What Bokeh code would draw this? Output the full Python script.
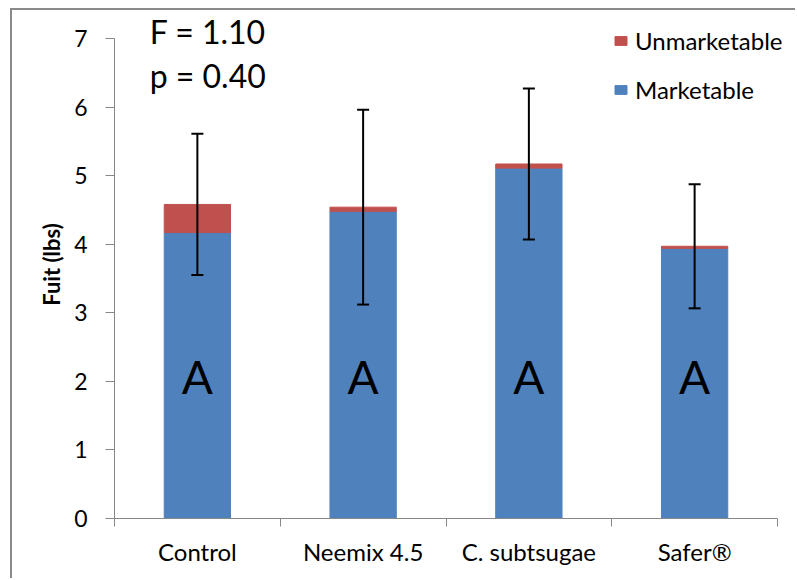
from bokeh.plotting import figure
from bokeh.models import (ColumnDataSource, Range1d, LinearAxis, FixedTicker, Legend, LegendItem,
                          Whisker, TeeHead, Label)
from bokeh.core.properties import value
from bokeh.embed import file_html
from bokeh.resources import INLINE

categories = ["Control", "Neemix 4.5", "C. subtsugae", "Safer®"]
marketable = [4.17, 4.48, 5.11, 3.94]
unmarketable = [0.41, 0.06, 0.06, 0.03]
error = [1.03, 1.42, 1.10, 0.905]
letters = ["A", "A", "A", "A"]
stat_lines = ["F = 1.10", "p = 0.40"]
y_ticks = [0, 1, 2, 3, 4, 5, 6, 7]

FONT = "Lato"
GRAY = "#878787"
BLUE = "#4F81BD"
RED = "#C0504D"

# canvas origin in picture pixels (after margin + border)
OX, OY = 12, 10
W, H = 797 - OX, 580 - OY
PX_Y = 480 / 7          # pixels per y unit
PX_X = (777 - 114) / 4  # pixels per category
Y_TOP = (518 - OY) / PX_Y
X_END = len(categories) + (797 - 777) / PX_X

xs = [i + 0.5 for i in range(len(categories))]
totals = [m + u for m, u in zip(marketable, unmarketable)]
src = ColumnDataSource(dict(
    x=xs, marketable=marketable, unmarketable=unmarketable, total=totals,
    upper=[t + e for t, e in zip(totals, error)],
    lower=[t - e for t, e in zip(totals, error)],
    letters=letters,
))

p = figure(width=W, height=H, output_backend="svg", toolbar_location=None,
           x_range=Range1d(0, X_END), y_range=Range1d(0, Y_TOP),
           min_border_left=114 - OX, min_border_right=0,
           min_border_top=0, min_border_bottom=H - (518 - OY),
           x_axis_type=None, y_axis_type=None)
p.styles = {"margin-left": "10px", "margin-top": "8px",
            "border-left": "2px solid #8a8a8a", "border-top": "2px solid #8a8a8a"}
p.outline_line_color = None
p.background_fill_color = "white"
p.border_fill_color = "white"

# y axis
yax = LinearAxis(ticker=FixedTicker(ticks=y_ticks, minor_ticks=[]), bounds=(0, 7))
yax.axis_line_color = GRAY
yax.major_tick_line_color = GRAY
yax.major_tick_out = 9
yax.major_tick_in = 0
yax.major_label_standoff = 18
yax.major_label_text_font = FONT
yax.major_label_text_font_size = "23px"
yax.major_label_text_color = "black"
yax.axis_label = "Fuit (lbs)"
yax.axis_label_text_font = FONT
yax.axis_label_text_font_style = "bold"
yax.axis_label_text_font_size = "22px"
yax.axis_label_text_color = "black"
yax.axis_label_standoff = 6
p.add_layout(yax, "left")

# x axis: labels at centers, ticks at category boundaries
xax = LinearAxis(ticker=FixedTicker(ticks=xs, minor_ticks=list(range(len(categories) + 1))),
                 bounds=(0, len(categories)))
xax.major_label_overrides = {x: c for x, c in zip(xs, categories)}
xax.axis_line_color = GRAY
xax.major_tick_line_color = None
xax.major_tick_out = 8
xax.major_tick_in = 0
xax.minor_tick_line_color = GRAY
xax.minor_tick_out = 8
xax.minor_tick_in = 0
xax.major_label_standoff = 10
xax.major_label_text_font = FONT
xax.major_label_text_font_size = "24px"
xax.major_label_text_color = "black"
p.add_layout(xax, "below")

p.ygrid.ticker = FixedTicker(ticks=y_ticks)
p.ygrid.grid_line_color = GRAY
p.ygrid.grid_line_width = 1
p.ygrid.bounds = (0, len(categories))
p.xgrid.grid_line_color = None

r_m = p.vbar(x="x", top="marketable", bottom=0, width=0.4, source=src,
             fill_color=BLUE, line_color=BLUE)
r_u = p.vbar(x="x", top="total", bottom="marketable", width=0.4, source=src,
             fill_color=RED, line_color=RED)

w = Whisker(base="x", upper="upper", lower="lower", source=src,
            line_color="black", line_width=2, level="overlay",
            upper_head=TeeHead(size=12, line_color="black", line_width=2),
            lower_head=TeeHead(size=12, line_color="black", line_width=2))
p.add_layout(w)

p.text(x="x", y=2.07, text="letters", source=src, text_font=value(FONT),
       text_font_size="46px", text_align="center", text_baseline="alphabetic", text_color="black")

p.add_layout(Label(x=0.212, y=7.105, text=stat_lines[0], text_font=FONT, text_font_size="32px",
                   text_baseline="alphabetic", text_color="black"))
p.add_layout(Label(x=0.212, y=6.465, text=stat_lines[1], text_font=FONT, text_font_size="32px",
                   text_baseline="alphabetic", text_color="black"))

legend = Legend(items=[LegendItem(label="Unmarketable", renderers=[r_u]),
                       LegendItem(label="Marketable", renderers=[r_m])],
                location=(613 - 114, 414))
legend.padding = 0
legend.margin = 0
legend.spacing = 20
legend.glyph_width = 15
legend.glyph_height = 11
legend.label_height = 20
legend.label_standoff = 7
legend.label_text_font = FONT
legend.label_text_font_size = "24px"
legend.label_text_color = "black"
legend.border_line_color = None
legend.background_fill_alpha = 0
p.add_layout(legend)

open("out.html", "w").write(file_html(p, INLINE))
